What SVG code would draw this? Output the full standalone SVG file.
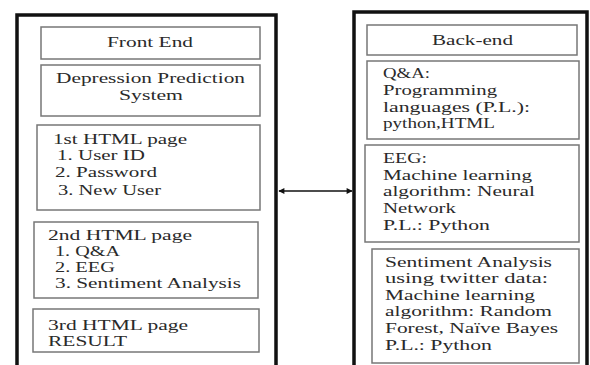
<svg xmlns="http://www.w3.org/2000/svg" width="590" height="365" viewBox="0 0 590 365">
<style>
.outer{fill:none;stroke:#111;stroke-width:3.5}
.box{fill:#fff;stroke:#777;stroke-width:1.5}
text{font-family:"Liberation Serif","Times New Roman",serif;font-size:15px;fill:#2a2a2a}
.conn{stroke:#111;stroke-width:1.5;fill:none}
</style>
<defs>
<marker id="ah" viewBox="0 0 10 10" refX="9" refY="5" markerWidth="7" markerHeight="6" orient="auto-start-reverse" markerUnits="userSpaceOnUse">
<path d="M0,0 L10,5 L0,10 z" fill="#111"/>
</marker>
</defs>
<rect width="590" height="365" fill="#fff"/>

<g id="frontend-panel">
<path class="outer" d="M17,368 V15 H276 V368"/>
</g>
<g id="front-end">
<rect class="box" x="41" y="27" width="219" height="32"/>
<text x="107" y="47" textLength="86" lengthAdjust="spacingAndGlyphs">Front End</text>
</g>
<g id="dps">
<rect class="box" x="41" y="65" width="219" height="51"/>
<text x="56" y="83" textLength="189" lengthAdjust="spacingAndGlyphs">Depression Prediction</text>
<text x="119" y="100" textLength="64" lengthAdjust="spacingAndGlyphs">System</text>
</g>
<g id="page1">
<rect class="box" x="37" y="125" width="223" height="85"/>
<text x="53" y="144" textLength="134" lengthAdjust="spacingAndGlyphs">1st HTML page</text>
<text x="57" y="160" textLength="88" lengthAdjust="spacingAndGlyphs">1. User ID</text>
<text x="55" y="177" textLength="102" lengthAdjust="spacingAndGlyphs">2. Password</text>
<text x="58" y="195" textLength="103" lengthAdjust="spacingAndGlyphs">3. New User</text>
</g>
<g id="page2">
<rect class="box" x="34" y="222" width="224" height="76"/>
<text x="48" y="240" textLength="144" lengthAdjust="spacingAndGlyphs">2nd HTML page</text>
<text x="55" y="256" textLength="65" lengthAdjust="spacingAndGlyphs">1. Q&amp;A</text>
<text x="55" y="272" textLength="60" lengthAdjust="spacingAndGlyphs">2. EEG</text>
<text x="55" y="288" textLength="186" lengthAdjust="spacingAndGlyphs">3. Sentiment Analysis</text>
</g>
<g id="page3">
<rect class="box" x="33" y="309" width="226" height="43"/>
<text x="48" y="330" textLength="140" lengthAdjust="spacingAndGlyphs">3rd HTML page</text>
<text x="48" y="346" textLength="79" lengthAdjust="spacingAndGlyphs">RESULT</text>
</g>

<g id="backend-panel">
<path class="outer" d="M354,368 V12 H587 V368"/>
</g>
<g id="back-end">
<rect class="box" x="367" y="25" width="210" height="30"/>
<text x="432" y="45" textLength="81" lengthAdjust="spacingAndGlyphs">Back-end</text>
</g>
<g id="qa">
<rect class="box" x="367" y="61" width="212" height="78"/>
<text x="383" y="78" textLength="47" lengthAdjust="spacingAndGlyphs">Q&amp;A:</text>
<text x="383" y="95" textLength="114" lengthAdjust="spacingAndGlyphs">Programming</text>
<text x="383" y="112" textLength="147" lengthAdjust="spacingAndGlyphs">languages (P.L.):</text>
<text x="383" y="128" textLength="112" lengthAdjust="spacingAndGlyphs">python,HTML</text>
</g>
<g id="eeg">
<rect class="box" x="365" y="145" width="214" height="97"/>
<text x="383" y="163" textLength="44" lengthAdjust="spacingAndGlyphs">EEG:</text>
<text x="383" y="180" textLength="149" lengthAdjust="spacingAndGlyphs">Machine learning</text>
<text x="383" y="196" textLength="152" lengthAdjust="spacingAndGlyphs">algorithm: Neural</text>
<text x="383" y="213" textLength="73" lengthAdjust="spacingAndGlyphs">Network</text>
<text x="383" y="230" textLength="107" lengthAdjust="spacingAndGlyphs">P.L.: Python</text>
</g>
<g id="sentiment">
<rect class="box" x="372" y="249" width="207" height="114"/>
<text x="385" y="267" textLength="167" lengthAdjust="spacingAndGlyphs">Sentiment Analysis</text>
<text x="385" y="283" textLength="163" lengthAdjust="spacingAndGlyphs">using twitter data:</text>
<text x="385" y="300" textLength="150" lengthAdjust="spacingAndGlyphs">Machine learning</text>
<text x="385" y="316" textLength="167" lengthAdjust="spacingAndGlyphs">algorithm: Random</text>
<text x="385" y="333" textLength="173" lengthAdjust="spacingAndGlyphs">Forest, Naïve Bayes</text>
<text x="385" y="350" textLength="107" lengthAdjust="spacingAndGlyphs">P.L.: Python</text>
</g>

<g id="connectors">
<line class="conn" x1="279" y1="191" x2="352" y2="191" marker-start="url(#ah)" marker-end="url(#ah)"/>
</g>
</svg>
